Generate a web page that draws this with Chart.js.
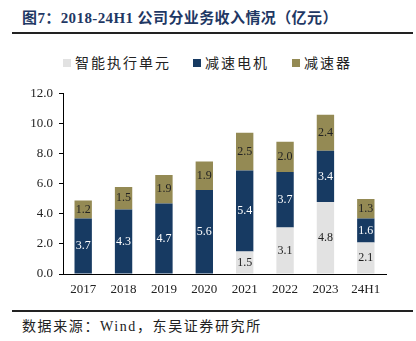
<!DOCTYPE html>
<html>
<head>
<meta charset="utf-8">
<script src="https://cdn.jsdelivr.net/npm/chart.js@4"></script>
<style>
  body { margin: 0; width: 416px; height: 341px; background: #fff; position: relative; overflow: hidden; }
  #title { position: absolute; left: 22px; top: 6px; font: bold 15px "Liberation Serif", "Noto Sans CJK SC", serif; color: #1f3864; white-space: nowrap; letter-spacing: 0.4px; }
  .rule { position: absolute; left: 12px; width: 401px; height: 2px; background: #222; }
  #legend { position: absolute; top: 52px; left: 0; width: 416px; height: 20px; font: 14px "Noto Sans CJK SC", serif; color: #222; }
  .item { position: absolute; top: 0; white-space: nowrap; letter-spacing: 2px; }
  .box { display: inline-block; width: 8px; height: 8px; margin-right: 4px; vertical-align: 1px; }
  #wrap { position: absolute; left: 0; top: 80px; width: 416px; height: 220px; }
  #footer { position: absolute; left: 22px; top: 315px; font: 14px "Liberation Serif", "Noto Sans CJK SC", serif; color: #222; white-space: nowrap; letter-spacing: 1.6px; }
</style>
</head>
<body>
<div id="title">图7：2018-24H1 公司分业务收入情况（亿元）</div>
<div class="rule" style="top:32px"></div>
<div id="legend"></div>
<div id="wrap"><canvas id="c"></canvas></div>
<div class="rule" style="top:310px"></div>
<div id="footer">数据来源：Wind，东吴证券研究所</div>
<script>
const categories = ['2017', '2018', '2019', '2020', '2021', '2022', '2023', '24H1'];
const seriesNames = ['智能执行单元', '减速电机', '减速器'];
const unitValues = [null, null, null, null, 1.5, 3.1, 4.8, 2.1];
const motorValues = [3.7, 4.3, 4.7, 5.6, 5.4, 3.7, 3.4, 1.6];
const reducerValues = [1.2, 1.5, 1.9, 1.9, 2.5, 2.0, 2.4, 1.3];
const yTicks = [0, 2, 4, 6, 8, 10, 12];

const colors = ['#e2e2e2', '#173a62', '#948a54'];
const labelColors = ['#222', '#fff', '#222'];

// legend in html
const legendPos = [63, 193, 292];
const legend = document.getElementById('legend');
seriesNames.forEach((name, i) => {
  const d = document.createElement('div');
  d.className = 'item';
  d.style.left = legendPos[i] + 'px';
  d.innerHTML = '<span class="box" style="background:' + colors[i] + '"></span>' + name;
  legend.appendChild(d);
});

// numbers inside the bars
const barLabels = {
  id: 'barLabels',
  afterDatasetsDraw(chart) {
    const ctx = chart.ctx;
    ctx.save();
    ctx.font = '12px "Liberation Serif", serif';
    ctx.textAlign = 'center';
    ctx.textBaseline = 'middle';
    chart.data.datasets.forEach((ds, i) => {
      const meta = chart.getDatasetMeta(i);
      meta.data.forEach((bar, j) => {
        const v = ds.data[j];
        if (v == null) return;
        ctx.fillStyle = labelColors[i];
        ctx.fillText(v.toFixed(1), bar.x, (bar.y + bar.base) / 2);
      });
    });
    ctx.restore();
  }
};

new Chart(document.getElementById('c'), {
  type: 'bar',
  data: {
    labels: categories,
    datasets: [unitValues, motorValues, reducerValues].map((vals, i) => ({
      label: seriesNames[i],
      data: vals,
      backgroundColor: colors[i],
      borderWidth: 0,
      barPercentage: 0.43,
      categoryPercentage: 1.0
    }))
  },
  options: {
    responsive: true,
    maintainAspectRatio: false,
    animation: false,
    layout: { padding: { top: 12, right: 30, left: 0, bottom: 0 } },
    plugins: {
      legend: { display: false },
      tooltip: { enabled: false }
    },
    scales: {
      x: {
        stacked: true,
        afterFit: s => { s.height = 26; },
        grid: { drawOnChartArea: false, drawTicks: false },
        border: { color: '#000', width: 1 },
        ticks: { color: '#222', padding: 8, font: { family: '"Liberation Serif", serif', size: 13 } }
      },
      y: {
        stacked: true,
        min: 0,
        max: 12,
        afterFit: s => { s.width = 63; },
        afterBuildTicks: s => { s.ticks = yTicks.map(v => ({ value: v })); },
        grid: { drawOnChartArea: false, drawTicks: true, tickLength: 4, color: '#000' },
        border: { color: '#000', width: 1 },
        ticks: {
          color: '#222',
          padding: 6,
          font: { family: '"Liberation Serif", serif', size: 13 },
          callback: v => v.toFixed(1)
        }
      }
    }
  },
  plugins: [barLabels]
});
</script>
</body>
</html>
